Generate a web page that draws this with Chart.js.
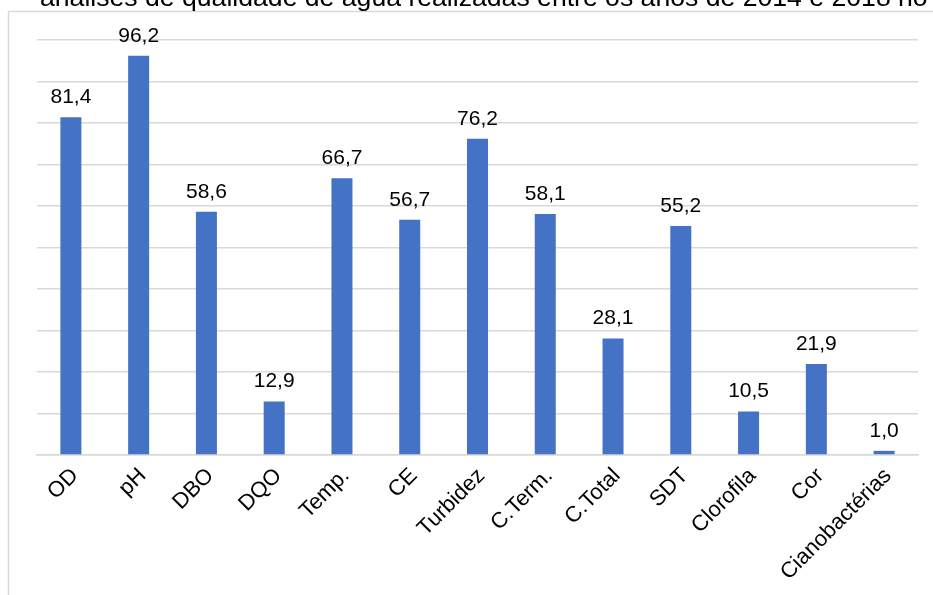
<!DOCTYPE html>
<html lang="pt">
<head>
<meta charset="UTF-8">
<title>Parâmetros de qualidade de água</title>
<script src="https://cdn.jsdelivr.net/npm/chart.js"></script>
<style>
  body { margin: 0; background: #fff; }
  canvas { display: block; }
</style>
</head>
<body>
<canvas id="grafico" width="933" height="595"></canvas>
<script>
// Parâmetros analisados e percentual de análises (%)
const parametros = ["OD", "pH", "DBO", "DQO", "Temp.", "CE", "Turbidez", "C.Term.", "C.Total", "SDT", "Clorofila", "Cor", "Cianobactérias"];
const percentuais = [81.4, 96.2, 58.6, 12.9, 66.7, 56.7, 76.2, 58.1, 28.1, 55.2, 10.5, 21.9, 1.0];
const titulo = "análises de qualidade de água realizadas entre os anos de 2014 e 2018 no";

const fonte = "Arial, 'Liberation Sans', sans-serif";

// moldura cinza e título (cortado no topo)
const molduraTitulo = {
  id: "molduraTitulo",
  beforeDraw(chart) {
    const ctx = chart.ctx;
    ctx.save();
    ctx.strokeStyle = "#d9d9d9";
    ctx.lineWidth = 1.5;
    ctx.beginPath();
    ctx.moveTo(8.5, 595);
    ctx.lineTo(8.5, 11.5);
    ctx.lineTo(933, 11.5);
    ctx.stroke();

    let tam = 24;
    ctx.font = tam + "px " + fonte;
    tam = tam * 888 / ctx.measureText(titulo).width;
    ctx.font = tam + "px " + fonte;
    ctx.fillStyle = "#000";
    ctx.textBaseline = "alphabetic";
    ctx.fillText(titulo, 40, 6);
    ctx.restore();
  }
};

// rótulos de valor acima das barras, com vírgula decimal
const rotulosValor = {
  id: "rotulosValor",
  afterDatasetsDraw(chart) {
    const ctx = chart.ctx;
    const meta = chart.getDatasetMeta(0);
    ctx.save();
    ctx.font = "21px " + fonte;
    ctx.fillStyle = "#000";
    ctx.textAlign = "center";
    ctx.textBaseline = "alphabetic";
    meta.data.forEach((barra, i) => {
      const txt = percentuais[i].toFixed(1).replace(".", ",");
      ctx.fillText(txt, barra.x, barra.y - 14);
    });
    ctx.restore();
  }
};

new Chart(document.getElementById("grafico"), {
  type: "bar",
  data: {
    labels: parametros,
    datasets: [{
      data: percentuais,
      backgroundColor: "#4472c4",
      barPercentage: 0.31,
      categoryPercentage: 1
    }]
  },
  options: {
    responsive: false,
    animation: false,
    layout: { padding: { top: 40, right: 15, left: 0, bottom: 0 } },
    plugins: {
      legend: { display: false },
      tooltip: { enabled: false }
    },
    scales: {
      x: {
        grid: { display: false },
        border: { color: "#d9d9d9", width: 1.5 },
        ticks: {
          color: "#000",
          font: { family: fonte, size: 22 },
          minRotation: 45,
          maxRotation: 45,
          padding: 0,
          labelOffset: 4
        },
        afterFit(scale) { scale.height = 140; }
      },
      y: {
        min: 0,
        max: 100,
        ticks: { display: false, stepSize: 10 },
        grid: { color: "#d9d9d9", lineWidth: 1.5, drawTicks: false },
        border: { display: false },
        afterFit(scale) { scale.width = 37; }
      }
    }
  },
  plugins: [molduraTitulo, rotulosValor]
});
</script>
</body>
</html>
